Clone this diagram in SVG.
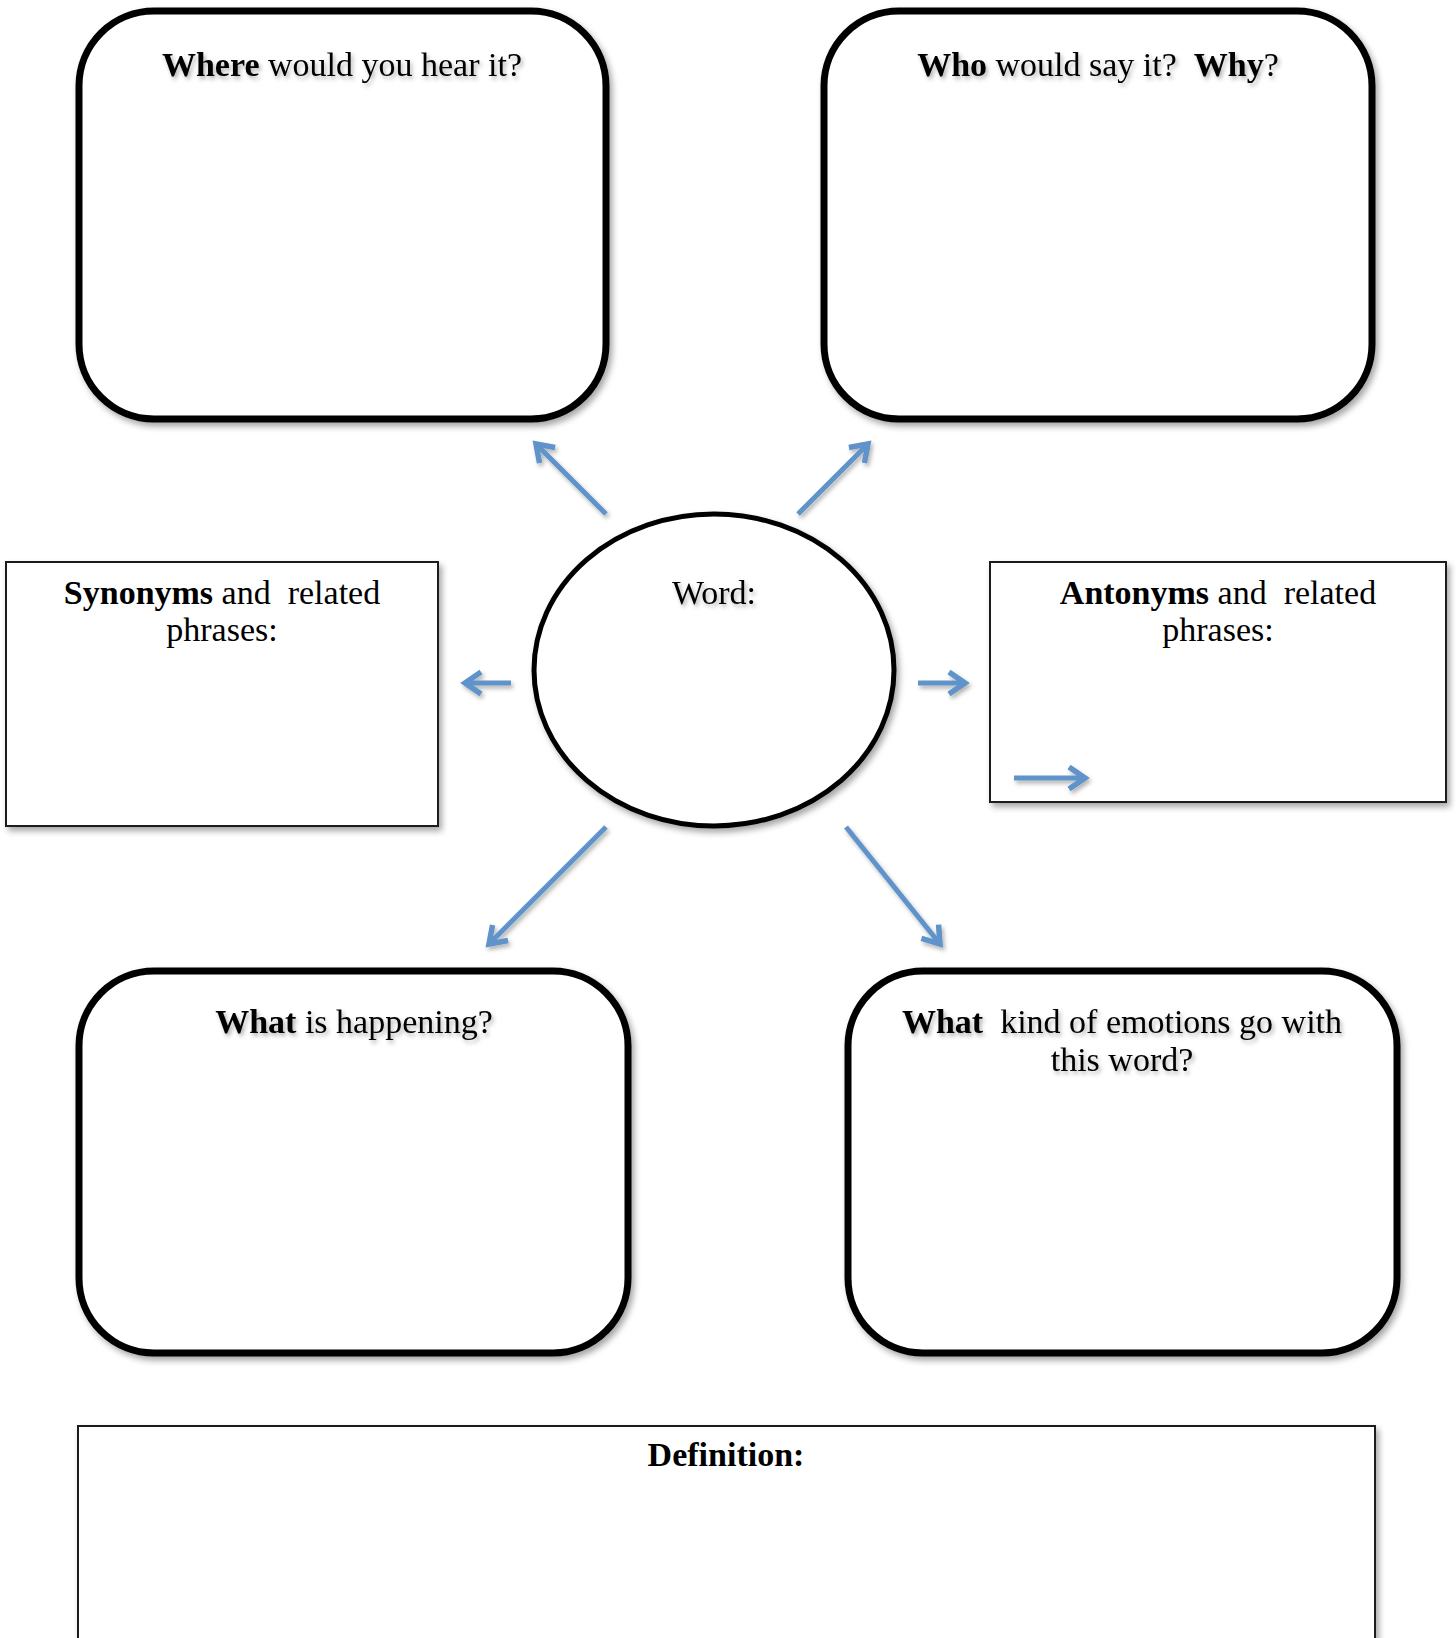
<svg xmlns="http://www.w3.org/2000/svg" width="1456" height="1638" viewBox="0 0 1456 1638">
<defs>
<filter id="sh" x="-10%" y="-10%" width="120%" height="120%">
<feDropShadow dx="3" dy="4" stdDeviation="3" flood-color="#000" flood-opacity="0.35"/>
</filter>
<filter id="tsh" x="-10%" y="-30%" width="120%" height="160%">
<feDropShadow dx="2" dy="3" stdDeviation="2" flood-color="#000" flood-opacity="0.3"/>
</filter>
<marker id="ah" markerUnits="userSpaceOnUse" markerWidth="28" markerHeight="28" viewBox="0 0 28 28" refX="22" refY="14" orient="auto">
<path d="M6,3 L22,14 L6,25" fill="none" stroke="#5f93c9" stroke-width="5.5" stroke-linecap="butt" stroke-linejoin="miter"/>
</marker>
</defs>
<style>
.rb{fill:#fff;stroke:#000;stroke-width:7}
.sq{fill:#fff;stroke:#1a1a1a;stroke-width:2}
.t{font-family:"Liberation Serif","Times New Roman",serif;font-size:34px;fill:#000;text-anchor:middle;white-space:pre}
.b{font-weight:bold}
.ar{stroke:#5f93c9;stroke-width:5;fill:none;marker-end:url(#ah)}
</style>
<rect width="1456" height="1638" fill="#fff"/>

<g id="where">
<rect class="rb" x="79" y="11" width="527" height="408" rx="75" filter="url(#sh)"/>
<text class="t" x="342" y="76" filter="url(#tsh)" xml:space="preserve"><tspan class="b">Where</tspan> would you hear it?</text>
</g>

<g id="who">
<rect class="rb" x="824" y="11" width="548" height="408" rx="75" filter="url(#sh)"/>
<text class="t" x="1098" y="76" filter="url(#tsh)" xml:space="preserve"><tspan class="b">Who</tspan> would say it?  <tspan class="b">Why</tspan>?</text>
</g>

<g id="word">
<ellipse cx="714" cy="670" rx="180" ry="156" fill="#fff" stroke="#000" stroke-width="5" filter="url(#sh)"/>
<text class="t" x="714" y="604" filter="url(#tsh)">Word:</text>
</g>

<g id="synonyms">
<rect class="sq" x="6" y="562" width="432" height="264" filter="url(#sh)"/>
<text class="t" x="222" y="604" xml:space="preserve"><tspan class="b">Synonyms</tspan> and  related</text>
<text class="t" x="222" y="641">phrases:</text>
</g>

<g id="antonyms">
<rect class="sq" x="990" y="562" width="456" height="240" filter="url(#sh)"/>
<text class="t" x="1218" y="604" xml:space="preserve"><tspan class="b">Antonyms</tspan> and  related</text>
<text class="t" x="1218" y="641">phrases:</text>
</g>

<g id="happening">
<rect class="rb" x="79" y="971" width="549" height="382" rx="75" filter="url(#sh)"/>
<text class="t" x="354" y="1033" filter="url(#tsh)" xml:space="preserve"><tspan class="b">What</tspan> is happening?</text>
</g>

<g id="emotions">
<rect class="rb" x="848" y="971" width="549" height="382" rx="75" filter="url(#sh)"/>
<text class="t" x="1122" y="1033" filter="url(#tsh)" xml:space="preserve"><tspan class="b">What</tspan>  kind of emotions go with</text>
<text class="t" x="1122" y="1071" filter="url(#tsh)">this word?</text>
</g>

<g id="definition">
<rect class="sq" x="78" y="1426" width="1297" height="240" filter="url(#sh)"/>
<text class="t b" x="726" y="1466">Definition:</text>
</g>

<g id="connectors" filter="url(#tsh)">
<line class="ar" x1="606" y1="514" x2="536" y2="444"/>
<line class="ar" x1="798" y1="514" x2="868" y2="444"/>
<line class="ar" x1="511" y1="683" x2="465" y2="683"/>
<line class="ar" x1="918" y1="683" x2="965" y2="683"/>
<line class="ar" x1="1014" y1="778" x2="1085" y2="778"/>
<line class="ar" x1="606" y1="827" x2="489" y2="944"/>
<line class="ar" x1="846" y1="827" x2="940" y2="944"/>
</g>
</svg>
